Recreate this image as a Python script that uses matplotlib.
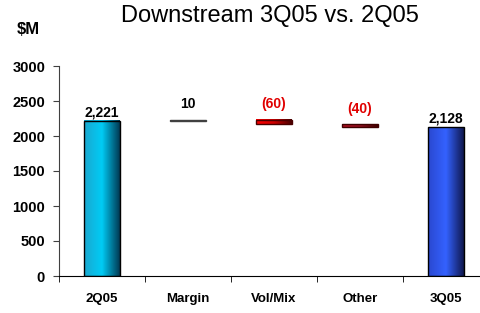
import matplotlib
matplotlib.use('Agg')
import matplotlib.pyplot as plt
import numpy as np
from matplotlib.colors import LinearSegmentedColormap

plt.rcParams['font.family'] = ['Liberation Sans', 'DejaVu Sans']

categories = ['2Q05', 'Margin', 'Vol/Mix', 'Other', '3Q05']
values = [2221, 10, -60, -40, 2128]
is_total = [True, False, False, False, True]
yticks = [0, 500, 1000, 1500, 2000, 2500, 3000]

# gradient colours per bar (left, middle, right)
grads = [
    ['#1aa8d0', '#00ccf5', '#003a55'],
    ['#404040', '#404040', '#404040'],
    ['#ff0000', '#d00000', '#4a0000'],
    ['#b01020', '#901020', '#400000'],
    ['#2a48d0', '#3462ff', '#101850'],
]
label_colors = ['black', 'black', '#e00000', '#e00000', 'black']

fig = plt.figure(figsize=(4.81, 3.13), dpi=100)
ax = fig.add_axes([59 / 481, 37 / 313, 1 - 59 / 481, 210 / 313])

w = 0.41
running = 0
for i, (v, tot) in enumerate(zip(values, is_total)):
    if tot:
        bottom, top = 0, v
        running = v
    else:
        bottom, top = running, running + v
        running += v
    lo, hi = min(bottom, top), max(bottom, top)
    cmap = LinearSegmentedColormap.from_list('g%d' % i, grads[i])
    grad = np.linspace(0, 1, 64).reshape(1, -1)
    ax.imshow(grad, cmap=cmap, aspect='auto', extent=(i - w / 2, i + w / 2, lo, hi),
              zorder=2, interpolation='bilinear')
    ax.bar(i, hi - lo, bottom=lo, width=w, facecolor='none',
           edgecolor='black' if tot else grads[i][2], linewidth=1, zorder=3)
    if tot:
        txt = f'{v:,}'
        off = 1
    else:
        txt = f'({abs(v)})' if v < 0 else f'{v}'
        off = 6
    ax.annotate(txt, (i, hi), xytext=(0, off), textcoords='offset points',
                ha='center', va='bottom', fontsize=10, fontweight='bold',
                color=label_colors[i])

ax.set_xlim(-0.5, 422 / 86 - 0.5)
ax.set_ylim(0, 3000)
ax.set_yticks(yticks)
ax.set_yticklabels([str(t) for t in yticks], fontsize=10.5, fontweight='bold')
ax.set_xticks(range(len(categories)))
ax.set_xticklabels(categories, fontsize=9.5, fontweight='bold')
ax.set_xticks(np.arange(-0.5, len(categories) - 0.5, 1), minor=True)
ax.tick_params(axis='x', which='major', length=0, pad=12)
ax.tick_params(axis='x', which='minor', length=4, direction='out')
ax.tick_params(axis='y', length=4, direction='out', pad=6, color='#404040')
ax.spines['top'].set_visible(False)
ax.spines['right'].set_visible(False)
ax.spines['left'].set_color('#404040')

fig.text(270 / 481, 1 - 16 / 313, 'Downstream 3Q05 vs. 2Q05', ha='center', va='center',
         fontsize=17)
fig.text(28 / 481, 1 - 29 / 313, '$M', ha='center', va='center', fontsize=12,
         fontweight='bold')

fig.savefig('out.png', dpi=100)
